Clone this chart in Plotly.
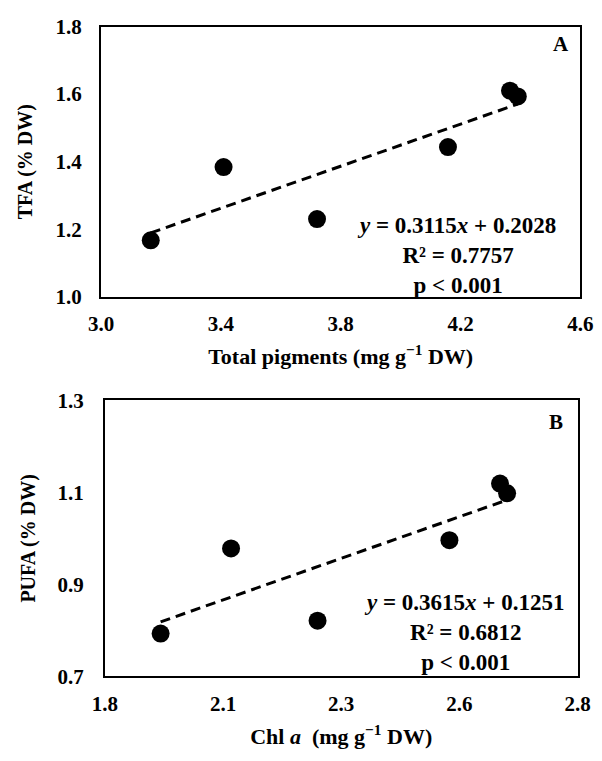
import plotly.graph_objects as go

# Panel A data
tp_x = [3.166, 3.409, 3.721, 4.158, 4.365, 4.391]
tfa_y = [1.167, 1.384, 1.230, 1.443, 1.610, 1.593]
a_slope, a_intercept = 0.3115, 0.2028
a_r2, a_p = "0.7757", "0.001"

# Panel B data
chla_x = [1.918, 2.067, 2.250, 2.529, 2.636, 2.651]
pufa_y = [0.793, 0.978, 0.821, 0.996, 1.119, 1.098]
b_slope, b_intercept = 0.3615, 0.1251
b_r2, b_p = "0.6812", "0.001"

a_xticks = [3.0, 3.4, 3.8, 4.2, 4.6]
a_yticks = [1.0, 1.2, 1.4, 1.6, 1.8]
b_xticks = [1.8, 2.05, 2.3, 2.55, 2.8]
b_xticklabels = ["1.8", "2.1", "2.3", "2.6", "2.8"]
b_yticks = [0.7, 0.9, 1.1, 1.3]

FAM = "Liberation Serif, Times New Roman, serif"
W, H = 602, 761


def font(size):
    return dict(family=FAM, size=size, color="black", weight="bold")


fig = go.Figure()

marker = dict(color="black", size=18)
dash_line = dict(color="black", width=3, dash="10px,6px")

# Panel A
fig.add_trace(go.Scatter(x=tp_x, y=tfa_y, mode="markers", marker=marker,
                         xaxis="x", yaxis="y", showlegend=False, cliponaxis=False))
ax_min, ax_max = min(tp_x), max(tp_x)
fig.add_trace(go.Scatter(x=[ax_min, ax_max],
                         y=[a_slope * ax_min + a_intercept, a_slope * ax_max + a_intercept],
                         mode="lines", line=dash_line, xaxis="x", yaxis="y", showlegend=False))

# Panel B
fig.add_trace(go.Scatter(x=chla_x, y=pufa_y, mode="markers", marker=marker,
                         xaxis="x2", yaxis="y2", showlegend=False, cliponaxis=False))
bx_min, bx_max = min(chla_x), max(chla_x)
fig.add_trace(go.Scatter(x=[bx_min, bx_max],
                         y=[b_slope * bx_min + b_intercept, b_slope * bx_max + b_intercept],
                         mode="lines", line=dash_line, xaxis="x2", yaxis="y2", showlegend=False))

axis_common = dict(showgrid=False, zeroline=False, showline=True, linecolor="black",
                   linewidth=2, mirror=True, ticks="", tickfont=font(21),
                   ticklabeloverflow="allow")

fig.update_layout(
    width=W, height=H,
    margin=dict(l=0, r=0, t=0, b=0),
    paper_bgcolor="white", plot_bgcolor="white",
    font=font(20),
    xaxis=dict(axis_common, domain=[92 / W, 593 / W], range=[3.0, 4.6],
               tickvals=a_xticks, ticktext=[f"{v:.1f}" for v in a_xticks],
               ticklabelstandoff=7, anchor="y",
               title=dict(text="Total pigments (mg g<sup>−1</sup> DW)", font=font(22), standoff=14)),
    yaxis=dict(axis_common, domain=[1 - 294 / H, 1 - 15 / H], range=[1.0, 1.8],
               tickvals=a_yticks, ticktext=[f"{v:.1f}" for v in a_yticks],
               ticklabelstandoff=13, anchor="x",
               title=dict(text="TFA (% DW)", font=font(20), standoff=18)),
    xaxis2=dict(axis_common, domain=[96 / W, 590 / W], range=[1.8, 2.8],
                tickvals=b_xticks, ticktext=b_xticklabels,
                ticklabelstandoff=7, anchor="y2",
                title=dict(text="Chl <i>a</i>  (mg g<sup>−1</sup> DW)", font=font(22), standoff=14)),
    yaxis2=dict(axis_common, domain=[1 - 686 / H, 1 - 401 / H], range=[0.7, 1.3],
                tickvals=b_yticks, ticktext=[f"{v:.1f}" for v in b_yticks],
                ticklabelstandoff=15, anchor="x2",
                title=dict(text="PUFA (% DW)", font=font(20), standoff=16)),
)

ann = []
ann.append(dict(text="A", x=573 / W, y=1 - 33 / H, xref="paper", yref="paper",
                showarrow=False, font=font(21), xanchor="center", yanchor="middle"))
ann.append(dict(text="B", x=568 / W, y=1 - 423 / H, xref="paper", yref="paper",
                showarrow=False, font=font(21), xanchor="center", yanchor="middle"))

eqA = (f"<i>y</i> = {a_slope:.4f}<i>x</i> + {a_intercept:.4f}<br>"
       f"R² = {a_r2}<br>p < {a_p}")
eqB = (f"<i>y</i> = {b_slope:.4f}<i>x</i> + {b_intercept:.4f}<br>"
       f"R² = {b_r2}<br>p < {b_p}")
ann.append(dict(text=eqA, x=463 / W, y=1 - 251 / H, xref="paper", yref="paper",
                showarrow=False, font=font(23), align="center",
                xanchor="center", yanchor="middle"))
ann.append(dict(text=eqB, x=471 / W, y=1 - 641 / H, xref="paper", yref="paper",
                showarrow=False, font=font(23), align="center",
                xanchor="center", yanchor="middle"))

fig.update_layout(annotations=ann)
fig.write_html("out.html")
